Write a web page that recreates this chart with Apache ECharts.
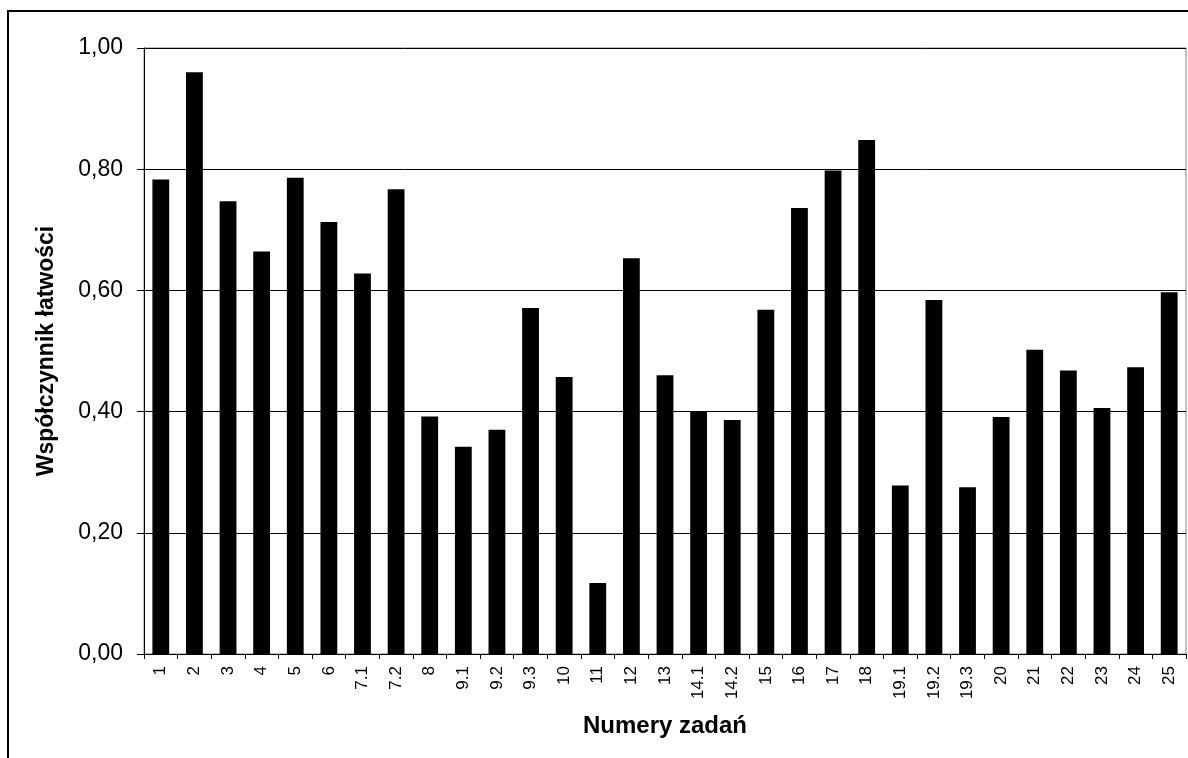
<!DOCTYPE html>
<html>
<head>
<meta charset="utf-8">
<script src="https://cdn.jsdelivr.net/npm/echarts@6/dist/echarts.min.js"></script>
<style>
html,body{margin:0;padding:0;background:#fff;}
#chart{width:1188px;height:758px;}
</style>
</head>
<body>
<div id="chart"></div>
<script>
const categories = ['1','2','3','4','5','6','7.1','7.2','8','9.1','9.2','9.3','10','11','12','13','14.1','14.2','15','16','17','18','19.1','19.2','19.3','20','21','22','23','24','25'];
const values = [0.783,0.960,0.747,0.664,0.786,0.713,0.628,0.767,0.392,0.342,0.370,0.571,0.457,0.117,0.653,0.460,0.400,0.386,0.568,0.736,0.798,0.848,0.278,0.584,0.275,0.391,0.502,0.468,0.406,0.473,0.597];
const yTicks = [0, 0.2, 0.4, 0.6, 0.8, 1.0];
const xTitle = 'Numery zadań';
const yTitle = 'Współczynnik łatwości';

const FONT = 'Arial, "Liberation Sans", sans-serif';
const chart = echarts.init(document.getElementById('chart'), null, {renderer:'canvas'});
chart.setOption({
  animation: false,
  backgroundColor: '#fff',
  graphic: [{
    type: 'rect',
    shape: {x: 8, y: 11, width: 1200, height: 800},
    style: {fill: 'none', stroke: '#000', lineWidth: 2},
    silent: true, z: 100
  }],
  grid: {left: 144, right: 2, top: 48, bottom: 104, show: true, borderColor: '#808080', borderWidth: 1, containLabel: false},
  xAxis: {
    type: 'category',
    data: categories,
    name: xTitle,
    nameLocation: 'middle',
    nameGap: 60,
    nameTextStyle: {fontFamily: FONT, fontWeight: 'bold', fontSize: 24, color: '#000'},
    axisLine: {lineStyle: {color: '#000', width: 1}},
    axisTick: {show: true, alignWithLabel: false, length: 5, lineStyle: {color: '#000'}},
    axisLabel: {rotate: 90, interval: 0, fontFamily: FONT, fontSize: 17, color: '#000', margin: 12},
    splitLine: {show: false}
  },
  yAxis: {
    type: 'value',
    min: 0, max: 1, interval: 0.2,
    name: yTitle,
    nameLocation: 'middle',
    nameGap: 86,
    nameRotate: 90,
    nameTextStyle: {fontFamily: FONT, fontWeight: 'bold', fontSize: 23, color: '#000'},
    axisLine: {show: true, lineStyle: {color: '#000', width: 1}},
    axisTick: {show: true, length: 7, inside: false, lineStyle: {color: '#000'}},
    axisLabel: {fontFamily: FONT, fontSize: 23, color: '#000', margin: 21,
      formatter: v => yTicks.includes(Math.round(v*10)/10) ? v.toFixed(2).replace('.', ',') : ''},
    splitLine: {show: true, lineStyle: {color: '#000', width: 1}}
  },
  series: [{
    type: 'bar',
    data: values,
    barCategoryGap: '50%',
    itemStyle: {color: '#000'}
  }]
});
</script>
</body>
</html>
